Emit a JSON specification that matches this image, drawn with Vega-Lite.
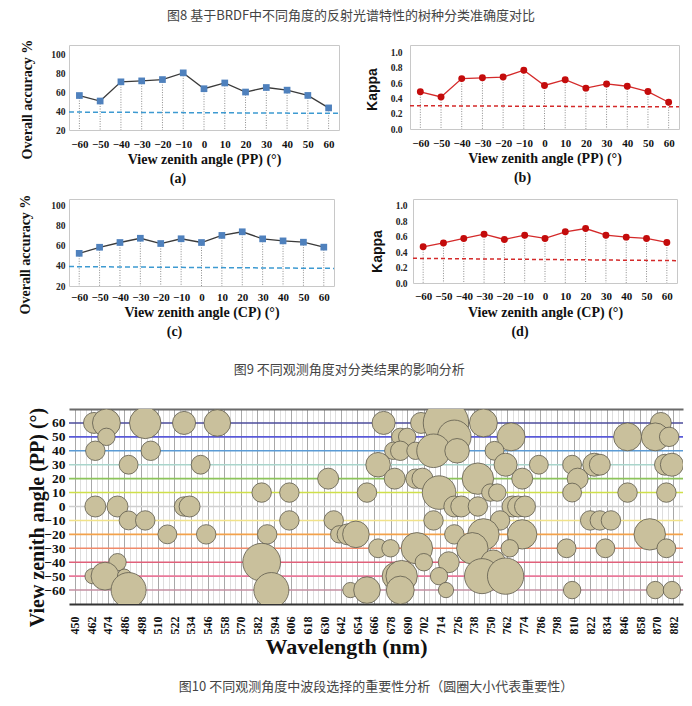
{
  "$schema": "https://vega.github.io/schema/vega-lite/v6.json",
  "background": "white",
  "padding": {"left": 18, "top": 9, "right": 0, "bottom": 0},
  "autosize": {"type": "pad"},
  "config": {"view": {"stroke": "#c8c8c8", "strokeWidth": 1}},
  "title": {"text": "图8  基于BRDF中不同角度的反射光谱特性的树种分类准确度对比", "font": "Noto Sans CJK SC", "fontSize": 13, "fontWeight": "normal", "color": "#444", "anchor": "middle", "offset": 16},
  "datasets": {
    "oa_pp": [{"angle":-60,"value":56.5},{"angle":-50,"value":50.7},{"angle":-40,"value":71},{"angle":-30,"value":72},{"angle":-20,"value":73.4},{"angle":-10,"value":80.5},{"angle":0,"value":63.7},{"angle":10,"value":69.8},{"angle":20,"value":60.2},{"angle":30,"value":65},{"angle":40,"value":62.2},{"angle":50,"value":56.6},{"angle":60,"value":43.4}],
    "kappa_pp": [{"angle":-60,"value":0.487},{"angle":-50,"value":0.42},{"angle":-40,"value":0.66},{"angle":-30,"value":0.67},{"angle":-20,"value":0.68},{"angle":-10,"value":0.77},{"angle":0,"value":0.57},{"angle":10,"value":0.645},{"angle":20,"value":0.535},{"angle":30,"value":0.59},{"angle":40,"value":0.56},{"angle":50,"value":0.49},{"angle":60,"value":0.35}],
    "oa_cp": [{"angle":-60,"value":52.3},{"angle":-50,"value":58.3},{"angle":-40,"value":63},{"angle":-30,"value":67.2},{"angle":-20,"value":62},{"angle":-10,"value":66.7},{"angle":0,"value":63},{"angle":10,"value":70},{"angle":20,"value":73.6},{"angle":30,"value":66.6},{"angle":40,"value":64.6},{"angle":50,"value":63.3},{"angle":60,"value":58.4}],
    "kappa_cp": [{"angle":-60,"value":0.47},{"angle":-50,"value":0.52},{"angle":-40,"value":0.578},{"angle":-30,"value":0.634},{"angle":-20,"value":0.565},{"angle":-10,"value":0.62},{"angle":0,"value":0.578},{"angle":10,"value":0.664},{"angle":20,"value":0.707},{"angle":30,"value":0.62},{"angle":40,"value":0.595},{"angle":50,"value":0.578},{"angle":60,"value":0.526}],
    "thr_oa_pp": [{"angle":-65,"value":39,"angle_end":65,"value_end":37.6}],
    "thr_kappa_pp": [{"angle":-65,"value":0.305,"angle_end":65,"value_end":0.29}],
    "thr_oa_cp": [{"angle":-65,"value":39.2,"angle_end":65,"value_end":37.4}],
    "thr_kappa_cp": [{"angle":-65,"value":0.32,"angle_end":65,"value_end":0.29}],
    "levels": [{"angle":60},{"angle":50},{"angle":40},{"angle":30},{"angle":20},{"angle":10},{"angle":0},{"angle":-10},{"angle":-20},{"angle":-30},{"angle":-40},{"angle":-50},{"angle":-60}],
    "bubbles": [
      {"wl":464,"angle":60,"imp":1.0},{"wl":473,"angle":60,"imp":1.77},{"wl":501,"angle":60,"imp":2.25},{"wl":529,"angle":60,"imp":1.21},{"wl":553,"angle":60,"imp":1.61},{"wl":673,"angle":60,"imp":1.21},{"wl":700,"angle":60,"imp":1.0},{"wl":718,"angle":60,"imp":4.7},{"wl":745,"angle":60,"imp":1.77},{"wl":873,"angle":60,"imp":1.0},
      {"wl":473,"angle":50,"imp":0.69},{"wl":685,"angle":50,"imp":0.69},{"wl":690,"angle":50,"imp":0.69},{"wl":724,"angle":50,"imp":2.56},{"wl":765,"angle":50,"imp":1.77},{"wl":849,"angle":50,"imp":1.77},{"wl":869,"angle":50,"imp":1.77},{"wl":879,"angle":50,"imp":0.86},
      {"wl":465,"angle":40,"imp":0.86},{"wl":505,"angle":40,"imp":0.86},{"wl":680,"angle":40,"imp":0.69},{"wl":685,"angle":40,"imp":0.86},{"wl":696,"angle":40,"imp":0.69},{"wl":709,"angle":40,"imp":2.56},{"wl":726,"angle":40,"imp":1.37},{"wl":753,"angle":40,"imp":0.81},
      {"wl":489,"angle":30,"imp":0.81},{"wl":541,"angle":30,"imp":0.81},{"wl":669,"angle":30,"imp":1.37},{"wl":761,"angle":30,"imp":1.21},{"wl":785,"angle":30,"imp":0.81},{"wl":809,"angle":30,"imp":0.81},{"wl":825,"angle":30,"imp":1.21},{"wl":829,"angle":30,"imp":1.0},{"wl":876,"angle":30,"imp":1.0},{"wl":881,"angle":30,"imp":1.21},
      {"wl":633,"angle":20,"imp":1.0},{"wl":681,"angle":20,"imp":1.0},{"wl":696,"angle":20,"imp":0.86},{"wl":701,"angle":20,"imp":1.0},{"wl":741,"angle":20,"imp":2.25},{"wl":773,"angle":20,"imp":1.0},{"wl":813,"angle":20,"imp":1.0},
      {"wl":585,"angle":10,"imp":0.86},{"wl":605,"angle":10,"imp":0.86},{"wl":661,"angle":10,"imp":0.86},{"wl":713,"angle":10,"imp":2.56},{"wl":750,"angle":10,"imp":0.69},{"wl":755,"angle":10,"imp":0.69},{"wl":809,"angle":10,"imp":0.81},{"wl":849,"angle":10,"imp":0.86},{"wl":877,"angle":10,"imp":0.86},
      {"wl":465,"angle":0,"imp":1.0},{"wl":481,"angle":0,"imp":1.0},{"wl":529,"angle":0,"imp":0.86},{"wl":533,"angle":0,"imp":1.0},{"wl":724,"angle":0,"imp":1.0},{"wl":729,"angle":0,"imp":1.0},{"wl":741,"angle":0,"imp":0.86},{"wl":766,"angle":0,"imp":1.0},{"wl":770,"angle":0,"imp":1.0},{"wl":775,"angle":0,"imp":1.0},
      {"wl":489,"angle":-10,"imp":0.81},{"wl":501,"angle":-10,"imp":0.86},{"wl":605,"angle":-10,"imp":0.86},{"wl":637,"angle":-10,"imp":0.86},{"wl":709,"angle":-10,"imp":0.86},{"wl":757,"angle":-10,"imp":0.86},{"wl":822,"angle":-10,"imp":0.86},{"wl":829,"angle":-10,"imp":0.86},{"wl":837,"angle":-10,"imp":0.86},
      {"wl":517,"angle":-20,"imp":0.81},{"wl":545,"angle":-20,"imp":0.86},{"wl":589,"angle":-20,"imp":0.86},{"wl":641,"angle":-20,"imp":0.69},{"wl":647,"angle":-20,"imp":1.0},{"wl":653,"angle":-20,"imp":1.61},{"wl":724,"angle":-20,"imp":0.86},{"wl":745,"angle":-20,"imp":2.25},{"wl":773,"angle":-20,"imp":1.96},{"wl":865,"angle":-20,"imp":2.25},
      {"wl":669,"angle":-30,"imp":0.81},{"wl":678,"angle":-30,"imp":0.69},{"wl":697,"angle":-30,"imp":2.25},{"wl":737,"angle":-30,"imp":2.25},{"wl":764,"angle":-30,"imp":0.69},{"wl":805,"angle":-30,"imp":0.81},{"wl":833,"angle":-30,"imp":0.81},{"wl":877,"angle":-30,"imp":0.81},
      {"wl":481,"angle":-40,"imp":0.69},{"wl":585,"angle":-40,"imp":3.24},{"wl":702,"angle":-40,"imp":0.69},{"wl":720,"angle":-40,"imp":1.0},{"wl":752,"angle":-40,"imp":1.37},
      {"wl":463,"angle":-50,"imp":0.53},{"wl":472,"angle":-50,"imp":1.77},{"wl":486,"angle":-50,"imp":0.45},{"wl":682,"angle":-50,"imp":1.77},{"wl":686,"angle":-50,"imp":2.25},{"wl":713,"angle":-50,"imp":0.69},{"wl":744,"angle":-50,"imp":2.79},{"wl":761,"angle":-50,"imp":3.0},
      {"wl":489,"angle":-60,"imp":2.79},{"wl":592,"angle":-60,"imp":2.79},{"wl":649,"angle":-60,"imp":0.53},{"wl":661,"angle":-60,"imp":1.61},{"wl":685,"angle":-60,"imp":1.77},{"wl":718,"angle":-60,"imp":0.53},{"wl":809,"angle":-60,"imp":0.69},{"wl":869,"angle":-60,"imp":0.69},{"wl":881,"angle":-60,"imp":0.69}
    ]
  },
  "spacing": 30,
  "vconcat": [
    {
      "spacing": 6,
      "title": {"text": "图9  不同观测角度对分类结果的影响分析", "orient": "bottom", "font": "Noto Sans CJK SC", "fontSize": 13, "fontWeight": "normal", "color": "#444", "anchor": "middle", "offset": 24},
      "vconcat": [
        {
          "spacing": 23,
          "hconcat": [
            {
              "width": 270, "height": 85,
              "title": {"text": "(a)", "orient": "bottom", "font": "Liberation Serif", "fontSize": 14, "fontWeight": "bold", "color": "#111", "anchor": "middle", "offset": 6, "dx": -26},
              "encoding": {
                "x": {"field": "angle", "type": "quantitative", "scale": {"domain": [-65, 65]},
                      "axis": {"values": [-60,-50,-40,-30,-20,-10,0,10,20,30,40,50,60], "title": "View zenith angle (PP) (°)", "titleFont": "Liberation Serif", "titleFontSize": 14, "titleFontWeight": "bold", "titleColor": "#111", "titlePadding": 3, "labelFont": "Liberation Serif", "labelFontSize": 11, "labelFontWeight": "bold", "labelColor": "#111", "labelPadding": 8, "ticks": false, "domain": false, "grid": false, "labelFlush": false, "labelOverlap": false}},
                "y": {"field": "value", "type": "quantitative", "scale": {"domain": [20, 110]},
                      "axis": {"values": [20,40,60,80,100], "title": "Overall accuracy %", "titleFont": "Liberation Serif", "titleFontSize": 14, "titleFontWeight": "bold", "titleColor": "#111", "titlePadding": 16, "titleY": 54, "labelFont": "Liberation Serif", "labelFontSize": 9.5, "labelFontWeight": "bold", "labelColor": "#222", "labelPadding": 4, "ticks": false, "domain": false, "grid": false, "labelOverlap": false}}
              },
              "layer": [
                {"data": {"name": "oa_pp"}, "mark": {"type": "rule", "color": "#8c8c8c", "strokeDash": [1, 1.5], "strokeWidth": 1}, "encoding": {"y2": {"datum": 20}}},
                {"data": {"name": "thr_oa_pp"}, "mark": {"type": "rule", "color": "#3d9ad1", "strokeDash": [5, 3], "strokeWidth": 1.5}, "encoding": {"x2": {"field": "angle_end"}, "y2": {"field": "value_end"}}},
                {"data": {"name": "oa_pp"}, "mark": {"type": "line", "color": "#3a3a3a", "strokeWidth": 1.3}, "encoding": {}},
                {"data": {"name": "oa_pp"}, "mark": {"type": "point", "shape": "square", "filled": true, "color": "#4f81bd", "size": 45, "opacity": 1}, "encoding": {}}
              ]
            },
            {
              "width": 269, "height": 84,
              "title": {"text": "(b)", "orient": "bottom", "font": "Liberation Serif", "fontSize": 14, "fontWeight": "bold", "color": "#111", "anchor": "middle", "offset": 6, "dx": -22},
              "encoding": {
                "x": {"field": "angle", "type": "quantitative", "scale": {"domain": [-65, 65]},
                      "axis": {"values": [-60,-50,-40,-30,-20,-10,0,10,20,30,40,50,60], "title": "View zenith angle (PP) (°)", "titleFont": "Liberation Serif", "titleFontSize": 14, "titleFontWeight": "bold", "titleColor": "#111", "titlePadding": 3, "labelFont": "Liberation Serif", "labelFontSize": 11, "labelFontWeight": "bold", "labelColor": "#111", "labelPadding": 8, "ticks": false, "domain": false, "grid": false, "labelFlush": false, "labelOverlap": false}},
                "y": {"field": "value", "type": "quantitative", "scale": {"domain": [0, 1.1]},
                      "axis": {"values": [0,0.2,0.4,0.6,0.8,1.0], "format": ".1f", "title": "Kappa", "titleFont": "Liberation Sans", "titleFontSize": 14, "titleFontWeight": "bold", "titleColor": "#111", "titlePadding": 11, "titleY": 44, "labelFont": "Liberation Serif", "labelFontSize": 9.5, "labelFontWeight": "bold", "labelColor": "#222", "labelPadding": 8, "ticks": false, "domain": false, "grid": false, "labelOverlap": false}}
              },
              "layer": [
                {"data": {"name": "kappa_pp"}, "mark": {"type": "rule", "color": "#8c8c8c", "strokeDash": [1, 1.5], "strokeWidth": 1}, "encoding": {"y2": {"datum": 0}}},
                {"data": {"name": "thr_kappa_pp"}, "mark": {"type": "rule", "color": "#d42a2a", "strokeDash": [4, 3], "strokeWidth": 1.5}, "encoding": {"x2": {"field": "angle_end"}, "y2": {"field": "value_end"}}},
                {"data": {"name": "kappa_pp"}, "mark": {"type": "line", "color": "#d42a2a", "strokeWidth": 1.3}, "encoding": {}},
                {"data": {"name": "kappa_pp"}, "mark": {"type": "point", "shape": "circle", "filled": true, "color": "#c40c0c", "size": 48, "opacity": 1}, "encoding": {}}
              ]
            }
          ]
        },
        {
          "spacing": 33,
          "hconcat": [
            {
              "width": 265, "height": 87,
              "title": {"text": "(c)", "orient": "bottom", "font": "Liberation Serif", "fontSize": 14, "fontWeight": "bold", "color": "#111", "anchor": "middle", "offset": 6, "dx": -27},
              "encoding": {
                "x": {"field": "angle", "type": "quantitative", "scale": {"domain": [-65, 65]},
                      "axis": {"values": [-60,-50,-40,-30,-20,-10,0,10,20,30,40,50,60], "title": "View zenith angle (CP) (°)", "titleFont": "Liberation Serif", "titleFontSize": 14, "titleFontWeight": "bold", "titleColor": "#111", "titlePadding": 3, "labelFont": "Liberation Serif", "labelFontSize": 11, "labelFontWeight": "bold", "labelColor": "#111", "labelPadding": 5, "ticks": false, "domain": false, "grid": false, "labelFlush": false, "labelOverlap": false}},
                "y": {"field": "value", "type": "quantitative", "scale": {"domain": [20, 106]},
                      "axis": {"values": [20,40,60,80,100], "title": "Overall accuracy %", "titleFont": "Liberation Serif", "titleFontSize": 14, "titleFontWeight": "bold", "titleColor": "#111", "titlePadding": 18, "titleY": 55, "labelFont": "Liberation Serif", "labelFontSize": 9.5, "labelFontWeight": "bold", "labelColor": "#222", "labelPadding": 4, "ticks": false, "domain": false, "grid": false, "labelOverlap": false}}
              },
              "layer": [
                {"data": {"name": "oa_cp"}, "mark": {"type": "rule", "color": "#8c8c8c", "strokeDash": [1, 1.5], "strokeWidth": 1}, "encoding": {"y2": {"datum": 20}}},
                {"data": {"name": "thr_oa_cp"}, "mark": {"type": "rule", "color": "#3d9ad1", "strokeDash": [5, 3], "strokeWidth": 1.5}, "encoding": {"x2": {"field": "angle_end"}, "y2": {"field": "value_end"}}},
                {"data": {"name": "oa_cp"}, "mark": {"type": "line", "color": "#3a3a3a", "strokeWidth": 1.3}, "encoding": {}},
                {"data": {"name": "oa_cp"}, "mark": {"type": "point", "shape": "square", "filled": true, "color": "#4f81bd", "size": 45, "opacity": 1}, "encoding": {}}
              ]
            },
            {
              "width": 264, "height": 84,
              "title": {"text": "(d)", "orient": "bottom", "font": "Liberation Serif", "fontSize": 14, "fontWeight": "bold", "color": "#111", "anchor": "middle", "offset": 6, "dx": -25},
              "encoding": {
                "x": {"field": "angle", "type": "quantitative", "scale": {"domain": [-65, 65]},
                      "axis": {"values": [-60,-50,-40,-30,-20,-10,0,10,20,30,40,50,60], "title": "View zenith angle (CP) (°)", "titleFont": "Liberation Serif", "titleFontSize": 14, "titleFontWeight": "bold", "titleColor": "#111", "titlePadding": 4, "labelFont": "Liberation Serif", "labelFontSize": 11, "labelFontWeight": "bold", "labelColor": "#111", "labelPadding": 7, "ticks": false, "domain": false, "grid": false, "labelFlush": false, "labelOverlap": false}},
                "y": {"field": "value", "type": "quantitative", "scale": {"domain": [0, 1.09]},
                      "axis": {"values": [0,0.2,0.4,0.6,0.8,1.0], "format": ".1f", "title": "Kappa", "titleFont": "Liberation Sans", "titleFontSize": 14, "titleFontWeight": "bold", "titleColor": "#111", "titlePadding": 11, "titleY": 52, "labelFont": "Liberation Serif", "labelFontSize": 9.5, "labelFontWeight": "bold", "labelColor": "#222", "labelPadding": 6, "ticks": false, "domain": false, "grid": false, "labelOverlap": false}}
              },
              "layer": [
                {"data": {"name": "kappa_cp"}, "mark": {"type": "rule", "color": "#8c8c8c", "strokeDash": [1, 1.5], "strokeWidth": 1}, "encoding": {"y2": {"datum": 0}}},
                {"data": {"name": "thr_kappa_cp"}, "mark": {"type": "rule", "color": "#d42a2a", "strokeDash": [4, 3], "strokeWidth": 1.5}, "encoding": {"x2": {"field": "angle_end"}, "y2": {"field": "value_end"}}},
                {"data": {"name": "kappa_cp"}, "mark": {"type": "line", "color": "#d42a2a", "strokeWidth": 1.3}, "encoding": {}},
                {"data": {"name": "kappa_cp"}, "mark": {"type": "point", "shape": "circle", "filled": true, "color": "#c40c0c", "size": 48, "opacity": 1}, "encoding": {}}
              ]
            }
          ]
        }
      ]
    },
    {
      "width": 614, "height": 195,
      "view": {"stroke": null},
      "title": {"text": "图10  不同观测角度中波段选择的重要性分析（圆圈大小代表重要性）", "orient": "bottom", "font": "Noto Sans CJK SC", "fontSize": 13, "fontWeight": "normal", "color": "#444", "anchor": "middle", "offset": 24},
      "resolve": {"axis": {"x": "independent"}},
      "encoding": {
        "y": {"field": "angle", "type": "quantitative", "scale": {"domain": [-70, 70], "nice": false},
              "axis": {"values": [-60,-50,-40,-30,-20,-10,0,10,20,30,40,50,60], "title": "View zenith angle (PP) (°)", "titleFont": "Liberation Serif", "titleFontSize": 20, "titleFontWeight": "bold", "titleColor": "#111", "titleX": -22, "titleY": 108, "labelFont": "Liberation Serif", "labelFontSize": 13.5, "labelFontWeight": "bold", "labelColor": "#111", "labelPadding": 4, "ticks": false, "domain": false, "grid": false, "labelOverlap": false}}
      },
      "layer": [
        {"data": {"name": "bubbles"}, "mark": {"type": "point", "opacity": 0},
         "encoding": {"x": {"field": "wl", "type": "quantitative", "scale": {"domain": [446, 889], "nice": false, "zero": false},
           "axis": {"orient": "top", "values": [450,454,458,462,466,470,474,478,482,486,490,494,498,502,506,510,514,518,522,526,530,534,538,542,546,550,554,558,562,566,570,574,578,582,586,590,594,598,602,606,610,614,618,622,626,630,634,638,642,646,650,654,658,662,666,670,674,678,682,686,690,694,698,702,706,710,714,718,722,726,730,734,738,742,746,750,754,758,762,766,770,774,778,782,786,790,794,798,802,806,810,814,818,822,826,830,834,838,842,846,850,854,858,862,866,870,874,878,882,886], "labels": false, "ticks": false, "title": null, "domain": true, "domainColor": "#6a6a6a", "domainWidth": 2, "grid": true, "gridColor": "#d6d6d6", "gridWidth": 0.8}}}},
        {"data": {"name": "levels"}, "mark": {"type": "rule", "strokeWidth": 1.6},
         "encoding": {
           "color": {"field": "angle", "type": "ordinal", "scale": {"domain": [60,50,40,30,20,10,0,-10,-20,-30,-40,-50,-60], "range": ["#4b4b9b","#5a5ad8","#5b9bd5","#a9d5cc","#8cc45a","#cfe04a","#cfcfcf","#f2e38a","#f3a24b","#f08a6a","#e0607a","#e9799a","#c48fa2"]}, "legend": null}}},
        {"data": {"name": "bubbles"}, "mark": {"type": "circle", "fill": "#c9c09c", "stroke": "#5e5b4c", "strokeWidth": 0.8, "opacity": 1, "fillOpacity": 1, "clip": true},
         "encoding": {
           "x": {"field": "wl", "type": "quantitative", "scale": {"domain": [446, 889], "nice": false, "zero": false},
                 "axis": {"orient": "bottom", "values": [450,462,474,486,498,510,522,534,546,558,570,582,594,606,618,630,642,654,666,678,690,702,714,726,738,750,762,774,786,798,810,822,834,846,858,870,882], "title": "Wavelength (nm)", "titleFont": "Liberation Serif", "titleFontSize": 22, "titleFontWeight": "bold", "titleColor": "#111", "titlePadding": 2, "titleX": 277, "labelAngle": 270, "labelFont": "Liberation Serif", "labelFontSize": 12, "labelFontWeight": "bold", "labelColor": "#111", "labelPadding": 12, "ticks": false, "domain": true, "domainColor": "#333", "domainWidth": 2, "grid": true, "gridColor": "#a8a8a8", "gridWidth": 1, "labelFlush": false, "labelOverlap": false}},
           "size": {"field": "imp", "type": "quantitative", "scale": {"type": "linear", "domain": [0, 5], "range": [0, 2200]}, "legend": null}}}
      ]
    }
  ]
}
